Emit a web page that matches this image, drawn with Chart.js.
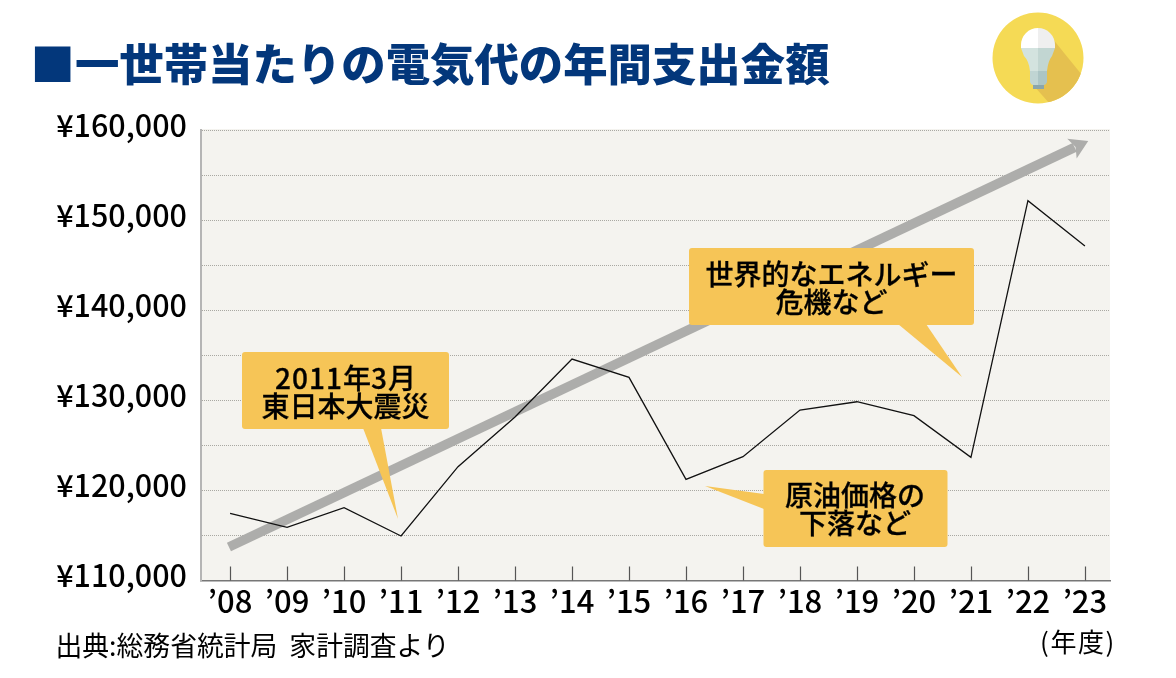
<!DOCTYPE html>
<html lang="ja">

<head>
    <meta charset="UTF-8">
    <title>一世帯当たりの電気代の年間支出金額</title>
    <script src="https://cdn.jsdelivr.net/npm/chart.js"></script>
    <style>
        html, body { margin: 0; padding: 0; background: #fff; }
        body { width: 1176px; height: 678px; overflow: hidden; position: relative; font-family: "Noto Sans CJK JP", sans-serif; color: #000; }
        canvas { position: absolute; left: 0; top: 0; }
        .titulo { position: absolute; left: 30.5px; top: 30px; margin: 0; font-size: 44.4px; line-height: 64px; font-weight: 900; color: #03377b; white-space: nowrap; }
        .icone { position: absolute; left: 990px; top: 10px; }
        .fonte { position: absolute; left: 55.5px; top: 626px; font-size: 26.8px; line-height: 38px; white-space: pre; }
        .unidade { position: absolute; left: 1040px; top: 622px; font-size: 26px; line-height: 38px; white-space: nowrap; letter-spacing: 1.6px; }
        .balao { position: absolute; font-size: 28px; line-height: 27.5px; font-weight: 500; text-align: center; white-space: nowrap; -webkit-text-stroke: 0.3px #000; }
    </style>
</head>

<body>
    <canvas id="grafico" width="1176" height="678"></canvas>

    <h1 class="titulo">■一世帯当たりの電気代の年間支出金額</h1>

    <svg class="icone" width="96" height="96" viewBox="990 10 96 96">
        <defs><clipPath id="disco"><circle cx="1038" cy="58" r="45.5"></circle></clipPath></defs>
        <circle cx="1038" cy="58" r="45.5" fill="#f5da55"></circle>
        <polygon clip-path="url(#disco)" points="1052,38 1086,80 1060,110 1050,104 1033,85" fill="#e5c04f"></polygon>
        <path d="M1021,45 a17,17 0 0 1 17,-17 v20 h-17 z" fill="#ffffff"></path>
        <path d="M1055,45 a17,17 0 0 0 -17,-17 v20 h17 z" fill="#efefef"></path>
        <path d="M1021,48 h17 v23 h-8 q-1,-10 -6,-15 z" fill="#d3e3df"></path>
        <path d="M1055,48 h-17 v23 h9 q1,-10 5,-15 z" fill="#c2d6d2"></path>
        <path d="M1030,71 h8 v14 h-5 q-3,-1 -3,-4 z" fill="#c0d5d3"></path>
        <path d="M1047,71 h-9 v14 h6 q3,-1 3,-4 z" fill="#acc5c5"></path>
        <rect x="1033" y="85" width="11" height="4" fill="#8aa5ab"></rect>
    </svg>

    <div class="balao" style="left:242px; top:364px; width:207px;"><span style="letter-spacing:1px">2011</span>年<span style="letter-spacing:1px">3</span>月<br>東日本大震災</div>
    <div class="balao" style="left:689px; top:260px; width:285px;">世界的なエネルギー<br>危機など</div>
    <div class="balao" style="left:763px; top:481px; width:184px;">原油価格の<br>下落など</div>

    <div class="fonte">出典:総務省統計局  家計調査より</div>
    <div class="unidade">(年度)</div>

    <script>
        var anos = [2008, 2009, 2010, 2011, 2012, 2013, 2014, 2015, 2016, 2017, 2018, 2019, 2020, 2021, 2022, 2023];
        var rotulosAno = ["’08", "’09", "’10", "’11", "’12", "’13", "’14", "’15", "’16", "’17", "’18", "’19", "’20", "’21", "’22", "’23"];
        var gastoAnual = [117460, 115900, 118080, 114940, 122630, 128150, 134580, 132550, 121230, 123740, 128920, 129840, 128290, 123670, 152150, 147130];

        // seta cinza de tendencia
        var anosTendencia = [2007.98, 2022.82];
        var valoresTendencia = [113720, 158070];

        var rotulosValor = ["¥110,000", "¥120,000", "¥130,000", "¥140,000", "¥150,000", "¥160,000"];

        var fonteValor = { family: '"Noto Sans CJK JP", sans-serif', size: 30.5, weight: '500' };
        var fonteAno = { family: '"Noto Sans CJK JP", sans-serif', size: 31, weight: '500' };

        function juntarPontos(listaX, listaY) {
            var pontos = [];
            for (let i = 0; i < listaX.length; i++) {
                pontos.push({ x: listaX[i], y: listaY[i] });
            }
            return pontos;
        }

        // fundo da area do grafico
        var pluginFundo = {
            id: 'fundo',
            beforeDraw(chart) {
                var area = chart.chartArea;
                var ctx = chart.ctx;
                ctx.save();
                ctx.fillStyle = '#f4f3ef';
                ctx.fillRect(area.left, area.top - 1, area.right - area.left, area.bottom - area.top + 1);
                ctx.restore();
            }
        };

        // tracinhos do eixo x, para dentro do grafico
        var pluginTracos = {
            id: 'tracos',
            afterDraw(chart) {
                var escala = chart.scales.x;
                var base = chart.chartArea.bottom;
                var ctx = chart.ctx;
                ctx.save();
                ctx.strokeStyle = '#555555';
                ctx.lineWidth = 1.2;
                escala.ticks.forEach(function (tick) {
                    var px = Math.round(escala.getPixelForValue(tick.value)) + 0.5;
                    ctx.beginPath();
                    ctx.moveTo(px, base);
                    ctx.lineTo(px, base - 14);
                    ctx.stroke();
                });
                ctx.restore();
            }
        };

        // ponta da seta e baloes amarelos
        function desenharBalao(ctx, x, y, largura, altura, cauda) {
            ctx.beginPath();
            ctx.roundRect(x, y, largura, altura, 3);
            ctx.fill();
            ctx.beginPath();
            ctx.moveTo(cauda[0], cauda[1]);
            ctx.lineTo(cauda[2], cauda[3]);
            ctx.lineTo(cauda[4], cauda[5]);
            ctx.closePath();
            ctx.fill();
        }

        var pluginAnotacoes = {
            id: 'anotacoes',
            afterDatasetsDraw(chart) {
                var ctx = chart.ctx;
                var pts = chart.getDatasetMeta(1).data;
                var ang = Math.atan2(pts[1].y - pts[0].y, pts[1].x - pts[0].x);

                ctx.save();
                ctx.translate(pts[1].x, pts[1].y);
                ctx.rotate(ang);
                ctx.fillStyle = '#adadab';
                ctx.beginPath();
                ctx.moveTo(15, 0);
                ctx.lineTo(-3, -11);
                ctx.lineTo(1, 0);
                ctx.lineTo(-3, 11);
                ctx.closePath();
                ctx.fill();
                ctx.restore();

                ctx.save();
                ctx.fillStyle = '#f6c557';
                desenharBalao(ctx, 242, 352, 207, 77, [363, 428, 381, 428, 398, 519]);
                desenharBalao(ctx, 689, 248, 285, 77, [898, 324, 926, 324, 962, 377]);
                desenharBalao(ctx, 763.5, 470, 184, 77, [764, 494, 764, 509, 705, 486]);
                ctx.restore();
            }
        };

        new Chart(document.getElementById('grafico'), {
            type: 'line',
            data: {
                datasets: [{
                    label: 'Gasto anual',
                    data: juntarPontos(anos, gastoAnual),
                    borderColor: '#111111',
                    borderWidth: 1.3,
                    pointRadius: 0,
                    tension: 0,
                    order: 1
                }, {
                    label: 'Tendencia',
                    data: juntarPontos(anosTendencia, valoresTendencia),
                    borderColor: '#adadab',
                    borderWidth: 9.5,
                    borderCapStyle: 'butt',
                    pointRadius: 0,
                    tension: 0,
                    order: 2
                }]
            },
            options: {
                responsive: false,
                animation: false,
                layout: { padding: { top: 130, right: 66, bottom: 0, left: 0 } },
                plugins: {
                    legend: { display: false },
                    tooltip: { enabled: false }
                },
                scales: {
                    x: {
                        type: 'linear',
                        min: 2007.49,
                        max: 2023.44,
                        afterFit(escala) { escala.height = 97.5; },
                        grid: { display: false },
                        border: { color: '#777777', width: 1.5 },
                        ticks: {
                            stepSize: 1,
                            includeBounds: false,
                            autoSkip: false,
                            maxRotation: 0,
                            padding: -6,
                            color: '#000000',
                            font: fonteAno,
                            callback: function (valor) {
                                return rotulosAno[anos.indexOf(valor)];
                            }
                        }
                    },
                    y: {
                        min: 110000,
                        max: 160000,
                        afterFit(escala) { escala.width = 201; },
                        grid: { color: '#a9a8a2', lineWidth: 1, drawTicks: false },
                        border: { color: '#b5b5b5', width: 2, dash: [1, 1] },
                        ticks: {
                            stepSize: 5000,
                            autoSkip: false,
                            padding: 14,
                            labelOffset: -5,
                            color: '#000000',
                            font: fonteValor,
                            callback: function (valor) {
                                if (valor % 10000 != 0) return '';
                                return rotulosValor[(valor - 110000) / 10000];
                            }
                        }
                    }
                }
            },
            plugins: [pluginFundo, pluginAnotacoes, pluginTracos]
        });
    </script>
</body>

</html>
